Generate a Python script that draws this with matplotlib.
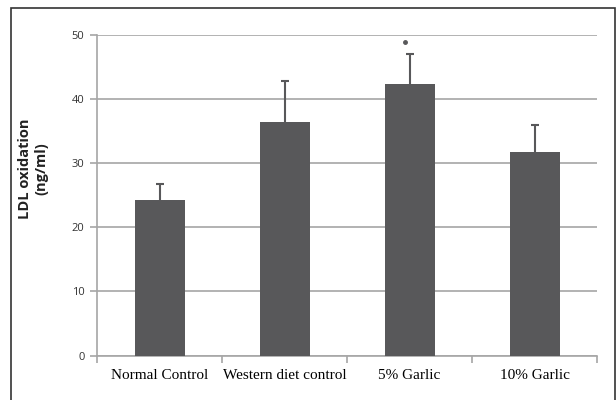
import matplotlib.pyplot as plt
from matplotlib.patches import Rectangle

# data
groups = ["Normal Control", "Western diet control", "5% Garlic", "10% Garlic"]
ldl_mean = [24.2, 36.4, 42.3, 31.8]
ldl_err = [2.6, 6.4, 4.8, 4.2]
sig_marks = ["", "", "*", ""]

bar_color = "#58585a"
grid_color = "#a6a6a6"

fig = plt.figure(figsize=(6.16, 4.0), dpi=100)
ax = fig.add_axes([97 / 616, 1 - 355.6 / 400, 500 / 616, 320.6 / 400])

# outer frame around the whole figure
fig.patches.append(Rectangle((11 / 616, -0.05), 604 / 616, 1 - 8 / 400 + 0.05,
                             transform=fig.transFigure, fill=False,
                             edgecolor="#333333", linewidth=1.2))

x = list(range(len(groups)))
ax.bar(x, ldl_mean, width=0.4, color=bar_color, zorder=3)
# upper-only error bars; the lower cap hides behind the bar
ax.errorbar(x, ldl_mean, yerr=[[0.3] * len(x), ldl_err], fmt="none",
            ecolor=bar_color, elinewidth=1.5, capsize=3, capthick=1.5, zorder=2)

# significance dot above the bar
for xi, m, e, s in zip(x, ldl_mean, ldl_err, sig_marks):
    if s:
        ax.plot(xi - 0.04, m + e + 1.8, "o", color=bar_color, markersize=2.5, zorder=4)

ax.set_xlim(-0.5, len(groups) - 0.5)
ax.set_ylim(0, 50)
ax.set_yticks([0, 10, 20, 30, 40, 50])
ax.yaxis.grid(True, color=grid_color, linewidth=1.2, zorder=0)

# category ticks sit on the boundaries between groups
ax.set_xticks([i - 0.5 for i in range(len(groups) + 1)])
ax.set_xticklabels([])
ax.set_xticks(x, minor=True)
ax.set_xticklabels(groups, minor=True, fontfamily="Liberation Serif", fontsize=11)
ax.tick_params(axis="x", which="minor", length=0, pad=10)
ax.tick_params(axis="x", which="major", length=5, color=grid_color, width=1.2)
ax.tick_params(axis="y", length=5, color=grid_color, width=1.2, labelsize=8,
               labelcolor="#333333", pad=4)
for lbl in ax.get_yticklabels():
    lbl.set_fontfamily("Open Sans")

for side in ["top", "right"]:
    ax.spines[side].set_visible(False)
for side in ["left", "bottom"]:
    ax.spines[side].set_color(grid_color)
    ax.spines[side].set_linewidth(1.2)

fig.text(33 / 616, 1 - 169 / 400, "LDL oxidation\n(ng/ml)", rotation=90,
         ha="center", va="center", fontfamily="Open Sans", fontweight="bold",
         fontsize=10.5, color="#222222", linespacing=1.2)

fig.savefig("out.png", dpi=100)
